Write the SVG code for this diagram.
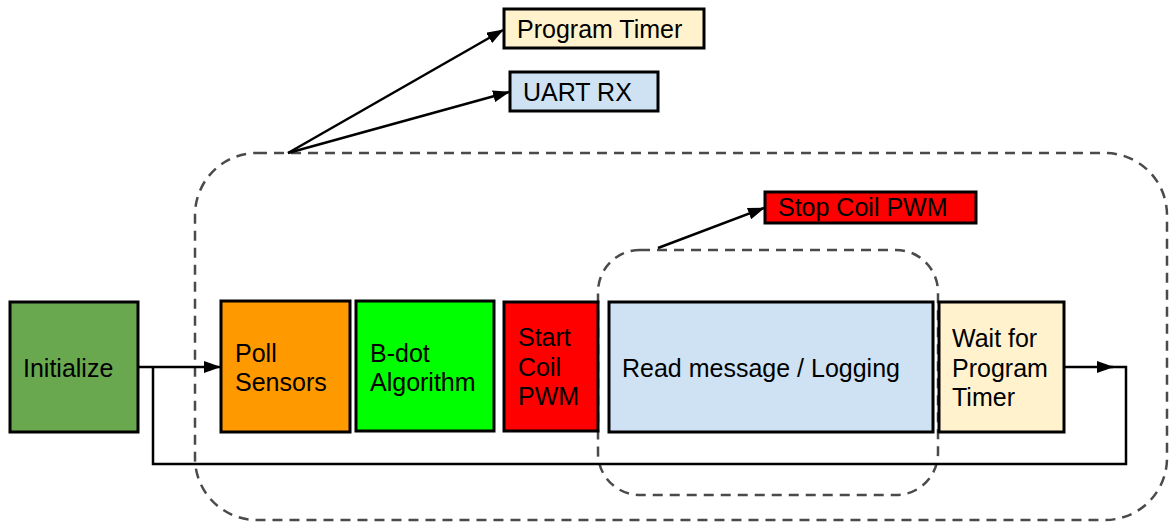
<svg xmlns="http://www.w3.org/2000/svg" width="1169" height="524" viewBox="0 0 1169 524">
<defs>
<style>
.box{stroke:#000;stroke-width:3}
.t{font-family:"Liberation Sans",Arial,sans-serif;font-size:25px;fill:#000}
.conn{fill:none;stroke:#000;stroke-width:2.5}
.dash{fill:none;stroke:#4a4a4a;stroke-width:2.5;stroke-dasharray:10,7}
</style>
<marker id="ah2" markerWidth="17" markerHeight="12" refX="16" refY="6" orient="auto" markerUnits="userSpaceOnUse" viewBox="0 0 17 12">
<path d="M0,0 L17,6 L0,12 z" fill="#000"/>
</marker>
</defs>
<rect width="1169" height="524" fill="#fff"/>
<g id="groups">
<rect class="dash" x="195" y="153" width="972" height="367" rx="62" ry="62"/>
<rect class="dash" x="598" y="250" width="340" height="245" rx="42" ry="42"/>
</g>
<g id="connectors">
<polyline class="conn" points="138,367 220,367" marker-end="url(#ah2)"/>
<polyline class="conn" points="1064,367 1113,367" marker-end="url(#ah2)"/>
<polyline class="conn" points="1110,367 1126,367 1126,464 153,464 153,367"/>
<line class="conn" x1="288" y1="153" x2="503" y2="30" marker-end="url(#ah2)"/>
<line class="conn" x1="288" y1="153" x2="509" y2="92" marker-end="url(#ah2)"/>
<line class="conn" x1="658" y1="248" x2="764" y2="208" marker-end="url(#ah2)"/>
</g>
<g id="initialize">
<rect class="box" x="10" y="302" width="128" height="130" fill="#6aa84f"/>
<text class="t" x="23" y="377">Initialize</text>
</g>
<g id="poll-sensors">
<rect class="box" x="221" y="301" width="129" height="131" fill="#ff9900"/>
<text class="t" x="235" y="362">Poll</text>
<text class="t" x="235" y="391">Sensors</text>
</g>
<g id="bdot">
<rect class="box" x="356" y="301" width="138" height="130" fill="#00ff00"/>
<text class="t" x="370" y="362">B-dot</text>
<text class="t" x="370" y="391">Algorithm</text>
</g>
<g id="start-coil">
<rect class="box" x="504" y="302" width="94" height="129" fill="#ff0000"/>
<text class="t" x="518" y="346">Start</text>
<text class="t" x="518" y="375.5">Coil</text>
<text class="t" x="518" y="405">PWM</text>
</g>
<g id="read-message">
<rect class="box" x="609" y="302" width="324" height="130" fill="#cfe2f3"/>
<text class="t" x="622" y="377">Read message / Logging</text>
</g>
<g id="wait-timer">
<rect class="box" x="939" y="302" width="125" height="130" fill="#fff2cc"/>
<text class="t" x="952" y="347">Wait for</text>
<text class="t" x="952" y="376.5">Program</text>
<text class="t" x="952" y="406">Timer</text>
</g>
<g id="program-timer">
<rect class="box" x="504" y="9" width="200" height="39" fill="#fff2cc"/>
<text class="t" x="517" y="38">Program Timer</text>
</g>
<g id="uart-rx">
<rect class="box" x="510" y="72" width="148" height="39" fill="#cfe2f3"/>
<text class="t" x="523" y="101">UART RX</text>
</g>
<g id="stop-coil">
<rect class="box" x="765" y="192" width="211" height="31" fill="#ff0000"/>
<text class="t" x="778" y="216">Stop Coil PWM</text>
</g>
</svg>
